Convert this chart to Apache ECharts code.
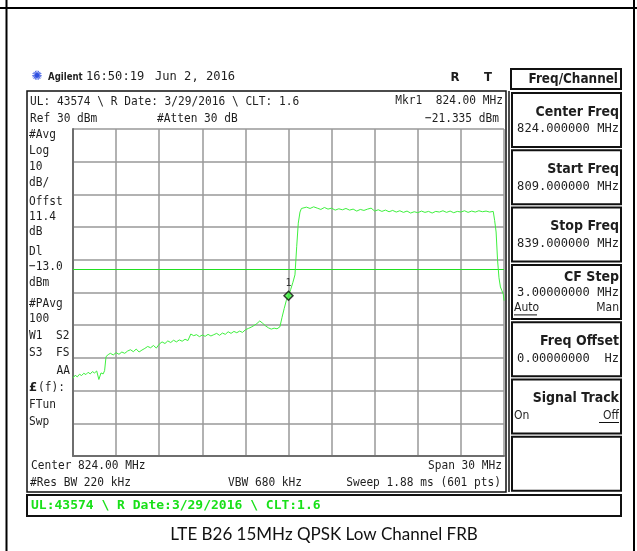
<!DOCTYPE html>
<html>
<head>
<meta charset="utf-8">
<script src="https://cdn.jsdelivr.net/npm/echarts/dist/echarts.min.js"></script>
<style>
  html, body { margin: 0; padding: 0; background: #fff; }
  #chart { width: 637px; height: 551px; }
</style>
</head>
<body>
<div id="chart"></div>
<script>
// sweep 809 - 839 MHz, ref 30 dBm, 10 dB/div
const freqMin = 809
const freqMax = 839
const freqStep = 3
const levelMin = -70
const levelMax = 30
const levelStep = 10
const displayLine = -13

// [MHz, dBm]
const trace = [
  [809.0, -46.2], [809.15, -45.3], [809.3, -45.8], [809.45, -45.0], [809.6, -45.4],
  [809.75, -44.7], [809.9, -45.1], [810.05, -44.4], [810.2, -44.9], [810.35, -44.2],
  [810.5, -44.6], [810.65, -44.0], [810.8, -46.6], [810.95, -44.6], [811.1, -44.9],
  [811.2, -43.9], [811.3, -39.6], [811.45, -39.0], [811.6, -38.6], [811.8, -39.1],
  [812.0, -38.4], [812.2, -38.9], [812.4, -38.2], [812.6, -38.6], [812.8, -37.9],
  [813.0, -37.5], [813.2, -38.1], [813.4, -37.3], [813.6, -38.2], [813.8, -37.6],
  [814.0, -37.1], [814.2, -36.5], [814.4, -36.9], [814.6, -36.2], [814.8, -37.0],
  [815.0, -35.8], [815.2, -35.1], [815.4, -35.6], [815.6, -34.8], [815.8, -35.3],
  [816.0, -34.6], [816.2, -35.1], [816.4, -34.5], [816.6, -34.9], [816.8, -34.3],
  [817.0, -34.7], [817.2, -32.7], [817.4, -33.2], [817.6, -32.9], [817.8, -33.5],
  [818.0, -33.0], [818.2, -33.4], [818.4, -32.8], [818.6, -33.3], [818.8, -32.9],
  [819.0, -32.5], [819.2, -33.1], [819.4, -32.4], [819.6, -32.8], [819.8, -32.0],
  [820.0, -32.5], [820.2, -31.9], [820.4, -32.3], [820.6, -31.8], [820.8, -32.2],
  [821.0, -31.4], [821.2, -31.0], [821.4, -30.6], [821.6, -30.1], [821.8, -29.5],
  [822.0, -28.7], [822.2, -29.4], [822.4, -30.2], [822.6, -30.8], [822.8, -31.2],
  [823.0, -30.9], [823.2, -31.1], [823.4, -30.5], [823.55, -27.6], [823.7, -24.9],
  [823.85, -22.4], [824.0, -21.0], [824.15, -19.1], [824.3, -17.0], [824.45, -14.6],
  [824.57, -6.0], [824.68, 1.2], [824.8, 4.6], [824.9, 5.7],
  [825.0, 5.6], [825.25, 6.1], [825.5, 5.7], [825.75, 6.2], [826.0, 5.8],
  [826.25, 5.4], [826.5, 6.0], [826.75, 5.5], [827.0, 5.8], [827.25, 5.2],
  [827.5, 5.6], [827.75, 5.3], [828.0, 5.7], [828.25, 5.2], [828.5, 5.5],
  [828.75, 4.9], [829.0, 5.4], [829.25, 5.1], [829.5, 5.5], [829.75, 5.8],
  [830.0, 4.9], [830.25, 5.3], [830.5, 4.8], [830.75, 5.2], [831.0, 4.7],
  [831.25, 5.1], [831.5, 4.6], [831.75, 5.0], [832.0, 4.5], [832.25, 4.9],
  [832.5, 4.3], [832.75, 4.7], [833.0, 4.4], [833.25, 4.9], [833.5, 4.5],
  [833.75, 4.8], [834.0, 4.3], [834.25, 4.8], [834.5, 4.6], [834.75, 5.0],
  [835.0, 4.5], [835.25, 4.9], [835.5, 4.4], [835.75, 4.8], [836.0, 4.6],
  [836.25, 5.0], [836.5, 4.5], [836.75, 4.9], [837.0, 4.6], [837.25, 5.0],
  [837.5, 4.7], [837.75, 4.9], [838.0, 4.6], [838.25, 4.8],
  [838.35, 2.0], [838.45, -1.5], [838.55, -10.0], [838.65, -15.5], [838.75, -18.3],
  [838.85, -19.4], [838.95, -20.5], [839.0, -22.5]
]

const marker = [[824.0, -21.0]]

const softkeys = [
  ['Center Freq', '824.000000 MHz'],
  ['Start Freq', '809.000000 MHz'],
  ['Stop Freq', '839.000000 MHz'],
  ['CF Step', '3.00000000 MHz'],
  ['Freq Offset', '0.00000000  Hz'],
  ['Signal Track', ''],
  ['', '']
]

const sideLabels = [
  ['#Avg', 135], ['Log', 151], ['10', 167], ['dB/', 183], ['Offst', 202],
  ['11.4', 217], ['dB', 232], ['Dl', 252], ['\u221213.0', 267], ['dBm', 283],
  ['#PAvg', 304], ['100', 319], ['W1  S2', 336], ['S3  FS', 353]
]

const MONO = '"DejaVu Sans Mono"'
const SANS = '"DejaVu Sans"'

function txt (x, y, s, o) {
  o = o || {}
  return {
    type: 'text', x: x, y: y, scaleX: o.sx || 0.86, z: 100,
    style: {
      text: s,
      font: o.font || ('13px ' + MONO),
      fill: o.fill || '#1e1e1e',
      textAlign: o.align || 'left',
      textVerticalAlign: 'middle'
    }
  }
}
function box (x, y, w, h, lw) {
  return {
    type: 'rect', z: 90, shape: { x: x, y: y, width: w, height: h },
    style: { fill: 'none', stroke: '#111', lineWidth: lw || 2 }
  }
}
function line (x1, y1, x2, y2, c, lw) {
  return {
    type: 'line', z: 90, shape: { x1: x1, y1: y1, x2: x2, y2: y2 },
    style: { stroke: c || '#000', lineWidth: lw || 2 }
  }
}

const g = []
// page frame
g.push(line(0, 8, 637, 8, '#000', 2))
g.push(line(6.5, 0, 6.5, 551, '#000', 2))
g.push(line(634, 0, 634, 551, '#000', 2))

// header
g.push(txt(37, 77, '\u273A', { font: '13px ' + SANS, fill: '#3050e0', align: 'center', sx: 1 }))
g.push(txt(48, 77, 'Agilent', { font: 'bold 11px ' + SANS, sx: 0.78 }))
g.push(txt(86, 77, '16:50:19', { font: '13px ' + MONO, sx: 0.93 }))
g.push(txt(155, 77, 'Jun 2, 2016', { font: '13px ' + MONO, sx: 0.93 }))
g.push(txt(455, 78, 'R', { font: 'bold 13px ' + SANS, align: 'center', sx: 0.9 }))
g.push(txt(488, 78, 'T', { font: 'bold 13px ' + SANS, align: 'center', sx: 0.9 }))

// screen box
g.push(box(27, 91, 479, 401, 1.5))
g.push(line(509, 91, 509, 492, '#111', 1.5))
g.push(txt(30, 102, 'UL: 43574 \\ R Date: 3/29/2016 \\ CLT: 1.6'))
g.push(txt(30, 119, 'Ref 30 dBm'))
g.push(txt(157, 119, '#Atten 30 dB'))
g.push(txt(503, 101, 'Mkr1  824.00 MHz', { align: 'right' }))
g.push(txt(499, 119, '\u221221.335 dBm', { align: 'right' }))
sideLabels.forEach(function (d) { g.push(txt(29, d[1], d[0])) })
g.push(txt(70, 371, 'AA', { align: 'right' }))
g.push(txt(29, 388, '\u00A3', { font: 'bold 13px ' + SANS, sx: 0.9 }))
g.push(txt(38, 388, '(f):'))
g.push(txt(29, 405, 'FTun'))
g.push(txt(29, 422, 'Swp'))
g.push(txt(31, 466, 'Center 824.00 MHz'))
g.push(txt(502, 466, 'Span 30 MHz', { align: 'right' }))
g.push(txt(30, 483, '#Res BW 220 kHz'))
g.push(txt(228, 483, 'VBW 680 kHz'))
g.push(txt(501, 483, 'Sweep 1.88 ms (601 pts)', { align: 'right' }))

// status bar
g.push(box(27, 495, 594, 21, 2))
g.push(txt(31, 506, 'UL:43574 \\ R Date:3/29/2016 \\ CLT:1.6',
  { font: 'bold 13px ' + MONO, fill: '#19e019', sx: 1 }))

// softkeys
g.push(box(511, 69, 110, 20, 2))
g.push(txt(618, 79, 'Freq/Channel', { font: 'bold 14px ' + SANS, align: 'right', sx: 0.86 }))
softkeys.forEach(function (k, i) {
  const top = 93 + i * 57.3
  g.push(box(512, top, 109, 54, 2))
  const ly = i === 3 ? top + 12 : top + 19
  const vy = i === 3 ? top + 28 : top + 36
  if (k[0]) g.push(txt(619, ly, k[0], { font: 'bold 14px ' + SANS, align: 'right', sx: 0.9 }))
  if (k[1]) g.push(txt(619, vy, k[1], { font: '13px ' + MONO, align: 'right', sx: 0.93 }))
})
g.push(txt(514, 93 + 3 * 57.3 + 43, 'Auto', { font: '12px ' + SANS, sx: 0.9 }))
g.push(line(514, 93 + 3 * 57.3 + 50, 537, 93 + 3 * 57.3 + 50, '#111', 1))
g.push(txt(619, 93 + 3 * 57.3 + 43, 'Man', { font: '12px ' + SANS, align: 'right', sx: 0.9 }))
g.push(txt(514, 93 + 5 * 57.3 + 36, 'On', { font: '12px ' + SANS, sx: 0.9 }))
g.push(txt(619, 93 + 5 * 57.3 + 36, 'Off', { font: '12px ' + SANS, align: 'right', sx: 0.9 }))
g.push(line(599, 93 + 5 * 57.3 + 43, 619, 93 + 5 * 57.3 + 43, '#111', 1))

// caption
g.push(txt(324, 535, 'LTE B26 15MHz QPSK Low Channel FRB',
  { font: '17px Lato', align: 'center', sx: 1, fill: '#111' }))

const chart = echarts.init(document.getElementById('chart'))
const option = {
  backgroundColor: '#fff',
  animation: false,
  grid: { left: 73, top: 129, width: 431, height: 327 },
  xAxis: {
    type: 'value', min: freqMin, max: freqMax, interval: freqStep,
    axisLabel: { show: false }, axisTick: { show: false },
    axisLine: { show: true, onZero: false, lineStyle: { color: '#6e6e6e', width: 2 } },
    splitLine: { show: true, lineStyle: { color: '#999', width: 1.5 } }
  },
  yAxis: {
    type: 'value', min: levelMin, max: levelMax, interval: levelStep,
    axisLabel: { show: false }, axisTick: { show: false },
    axisLine: { show: true, onZero: false, lineStyle: { color: '#6e6e6e', width: 2 } },
    splitLine: { show: true, lineStyle: { color: '#999', width: 1.5 } }
  },
  series: [{
    type: 'line',
    data: trace,
    symbol: 'none',
    lineStyle: { color: '#3ef03e', width: 1 },
    z: 5,
    markLine: {
      silent: true,
      symbol: 'none',
      label: { show: false },
      lineStyle: { color: '#22e022', width: 1, type: 'solid' },
      data: [{ yAxis: displayLine }]
    }
  }, {
    type: 'scatter',
    data: marker,
    symbol: 'diamond',
    symbolSize: 9,
    z: 6,
    itemStyle: { color: '#3ef03e', borderColor: '#111', borderWidth: 1.5 },
    label: {
      show: true, position: 'top', distance: 2, formatter: '1',
      color: '#111', fontSize: 10, fontFamily: 'DejaVu Sans Mono'
    }
  }],
  graphic: g
}
chart.setOption(option)
</script>
</body>
</html>
